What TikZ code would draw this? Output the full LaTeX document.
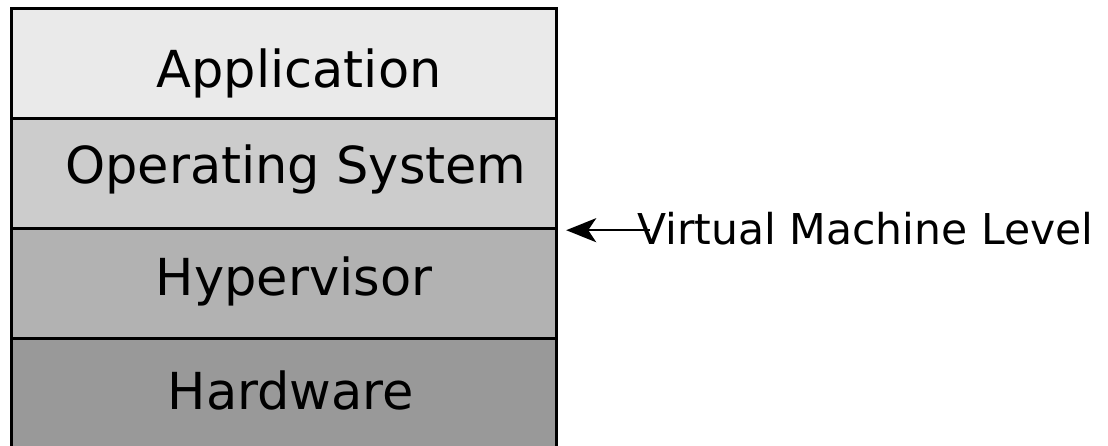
\documentclass[tikz,border=0pt]{standalone}
\usepackage{fontspec}
\setmainfont{DejaVu Sans}
\usetikzlibrary{arrows.meta}

\definecolor{appgray}{HTML}{EAEAEA}
\definecolor{osgray}{HTML}{CCCCCC}
\definecolor{hypgray}{HTML}{B2B2B2}
\definecolor{hwgray}{HTML}{999999}

\tikzset{
  layer/.style={draw=black, line width=3.2pt, minimum width=545pt,
                minimum height=110pt, inner sep=0pt, anchor=north west},
  layertext/.style={anchor=base, inner sep=0pt, font=\fontsize{51}{60}\selectfont},
}

\begin{document}
\begin{tikzpicture}[x=1pt,y=-1pt]
  \useasboundingbox (0,0) rectangle (1108,445);
  % stack of layers
  \node [layer, fill=appgray] (app) at (10,7)   {};
  \node [layer, fill=osgray]  (os)  at (10,117) {};
  \node [layer, fill=hypgray] (hyp) at (10,227) {};
  \node [layer, fill=hwgray]  (hw)  at (10,337) {};

  \node [layertext] (apptext) at (299,87)  {Application};
  \node [layertext] (ostext)  at (296,183) {Operating System};
  \node [layertext] (hyptext) at (294,295) {Hypervisor};
  \node [layertext] (hwtext)  at (291,409) {Hardware};

  % level marker
  \node [anchor=base west, inner sep=0pt, font=\fontsize{42.5}{50}\selectfont]
    (vmlevel) at (637,244) {Virtual Machine Level};
  \coordinate (vmstart) at ([xshift=13pt]vmlevel.west |- os.south east);
  \draw [line width=2.5pt, -{Stealth[length=30pt,width=24pt,inset=8pt]}]
    (vmstart) -- ([xshift=8pt]os.south east);
\end{tikzpicture}
\end{document}
